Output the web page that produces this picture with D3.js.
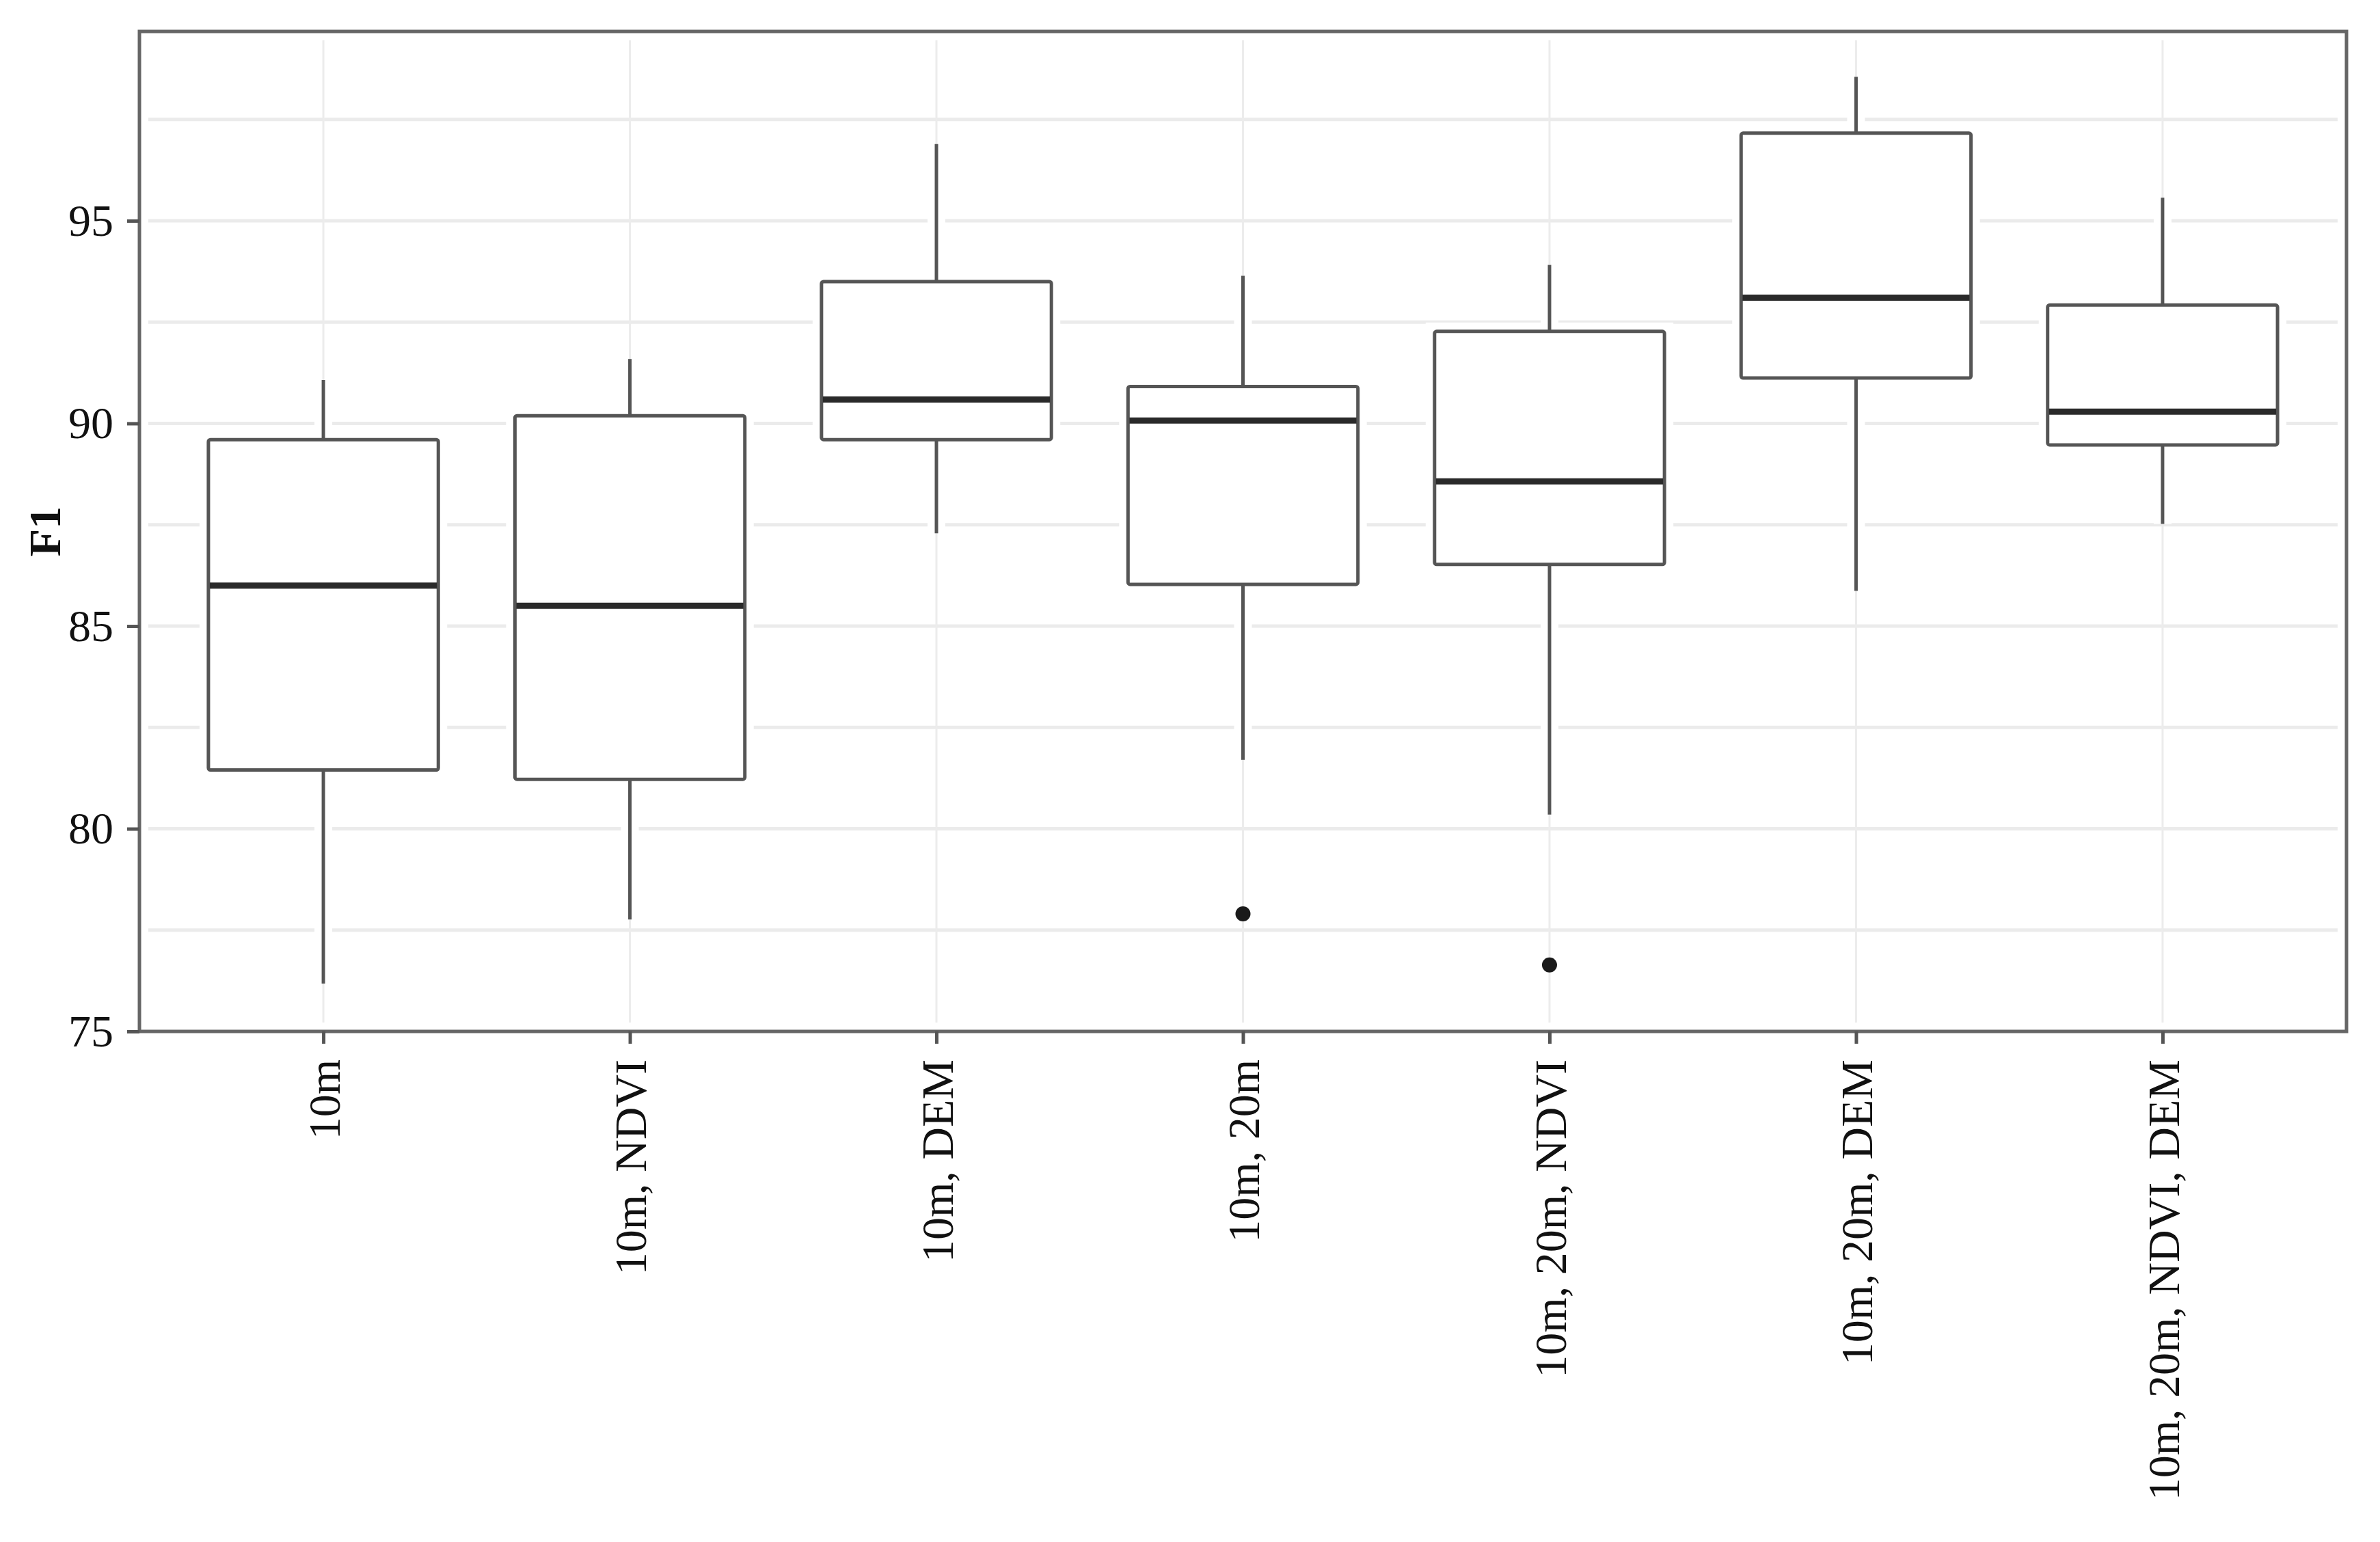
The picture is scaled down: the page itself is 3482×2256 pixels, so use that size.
<!DOCTYPE html>
<html lang="en">
  <head>
    <meta charset="UTF-8" />
    <meta name="viewport" content="width=device-width, initial-scale=1.0" />
    <title>F1 boxplot</title>
    <script src="https://cdn.jsdelivr.net/npm/d3@7"></script>
    <style>
      html,
      body {
        margin: 0;
        padding: 0;
        background: #fff;
      }

      svg {
        display: block;
      }

      .axis text {
        font-family: 'Liberation Serif', 'Times New Roman', serif;
        font-size: 66px;
        fill: #111;
      }
    </style>
  </head>
  <body>
    <svg></svg>
    <script>
      // values
      const categories = [
        '10m',
        '10m, NDVI',
        '10m, DEM',
        '10m, 20m',
        '10m, 20m, NDVI',
        '10m, 20m, DEM',
        '10m, 20m, NDVI, DEM'
      ];
      const whiskerLow = [76.18, 77.76, 87.29, 81.7, 80.35, 85.87, 87.52];
      const q1 = [81.45, 81.22, 89.6, 86.03, 86.52, 91.12, 89.47];
      const median = [86.0, 85.5, 90.59, 90.07, 88.57, 93.1, 90.29];
      const q3 = [89.6, 90.19, 93.5, 90.91, 92.27, 97.16, 92.92];
      const whiskerHigh = [91.07, 91.59, 96.89, 93.64, 93.91, 98.55, 95.57];
      const outliers = [[], [], [], [77.9], [76.64], [], []];

      const yTicks = [75, 80, 85, 90, 95];
      const yMinorTicks = [77.5, 82.5, 87.5, 92.5, 97.5];
      const yTitle = 'F1';

      const width = 3482;
      const height = 2256;
      const margin = { top: 46, right: 49, bottom: 747, left: 204 };
      const innerW = width - margin.left - margin.right;
      const innerH = height - margin.top - margin.bottom;

      const boxes = categories.map((name, i) => ({
        name,
        lo: whiskerLow[i],
        q1: q1[i],
        med: median[i],
        q3: q3[i],
        hi: whiskerHigh[i],
        out: outliers[i]
      }));

      const svg = d3
        .select('svg')
        .attr('width', width)
        .attr('height', height);

      const XScale = d3
        .scalePoint()
        .domain(categories)
        .range([0, innerW])
        .padding(0.6);

      const YScale = d3
        .scaleLinear()
        .domain([75, 99.67])
        .range([innerH, 0]);

      const boxW = XScale.step() * 0.75;

      const g = svg
        .append('g')
        .attr('transform', `translate(${margin.left},${margin.top})`);

      // grid
      g.append('g')
        .selectAll('line')
        .data(yMinorTicks.concat(yTicks))
        .enter()
        .append('line')
        .attr('x1', 0)
        .attr('x2', innerW)
        .attr('y1', d => YScale(d))
        .attr('y2', d => YScale(d))
        .attr('stroke', '#ebebeb')
        .attr('stroke-width', 5);

      g.append('g')
        .selectAll('line')
        .data(categories)
        .enter()
        .append('line')
        .attr('x1', d => XScale(d))
        .attr('x2', d => XScale(d))
        .attr('y1', 0)
        .attr('y2', innerH)
        .attr('stroke', '#ececec')
        .attr('stroke-width', 3);

      // white halo round the dark lines, as in the reference
      const halo = g.append('g').attr('stroke', '#fff').attr('stroke-width', 26);
      halo
        .selectAll('line')
        .data(boxes)
        .enter()
        .append('line')
        .attr('x1', d => XScale(d.name))
        .attr('x2', d => XScale(d.name))
        .attr('y1', d => YScale(d.lo))
        .attr('y2', d => YScale(d.hi));
      halo
        .selectAll('rect')
        .data(boxes)
        .enter()
        .append('rect')
        .attr('x', d => XScale(d.name) - boxW / 2)
        .attr('y', d => YScale(d.q3))
        .attr('width', boxW)
        .attr('height', d => YScale(d.q1) - YScale(d.q3))
        .attr('fill', '#fff');
      halo
        .append('rect')
        .attr('x', 0)
        .attr('y', 0)
        .attr('width', innerW)
        .attr('height', innerH)
        .attr('fill', 'none');

      const box = g
        .selectAll('g.box')
        .data(boxes)
        .enter()
        .append('g')
        .attr('class', 'box');

      box
        .append('line')
        .attr('x1', d => XScale(d.name))
        .attr('x2', d => XScale(d.name))
        .attr('y1', d => YScale(d.hi))
        .attr('y2', d => YScale(d.q3))
        .attr('stroke', '#555')
        .attr('stroke-width', 5);

      box
        .append('line')
        .attr('x1', d => XScale(d.name))
        .attr('x2', d => XScale(d.name))
        .attr('y1', d => YScale(d.q1))
        .attr('y2', d => YScale(d.lo))
        .attr('stroke', '#555')
        .attr('stroke-width', 5);

      box
        .append('rect')
        .attr('x', d => XScale(d.name) - boxW / 2)
        .attr('y', d => YScale(d.q3))
        .attr('width', boxW)
        .attr('height', d => YScale(d.q1) - YScale(d.q3))
        .attr('rx', 3)
        .attr('fill', '#fff')
        .attr('stroke', '#555')
        .attr('stroke-width', 5);

      box
        .append('line')
        .attr('x1', d => XScale(d.name) - boxW / 2 + 2)
        .attr('x2', d => XScale(d.name) + boxW / 2 - 2)
        .attr('y1', d => YScale(d.med))
        .attr('y2', d => YScale(d.med))
        .attr('stroke', '#2a2a2a')
        .attr('stroke-width', 9);

      box
        .selectAll('circle')
        .data(d => d.out.map(v => ({ name: d.name, v })))
        .enter()
        .append('circle')
        .attr('cx', d => XScale(d.name))
        .attr('cy', d => YScale(d.v))
        .attr('r', 11)
        .attr('fill', '#1a1a1a');

      // panel border
      g.append('rect')
        .attr('x', 0)
        .attr('y', 0)
        .attr('width', innerW)
        .attr('height', innerH)
        .attr('fill', 'none')
        .attr('stroke', '#666')
        .attr('stroke-width', 5);

      // axes
      const YAxis = d3
        .axisLeft(YScale)
        .tickValues(yTicks)
        .tickSize(18)
        .tickPadding(20);

      const yAxisG = g
        .append('g')
        .attr('class', 'axis')
        .call(YAxis);
      yAxisG.select('.domain').remove();
      yAxisG.selectAll('line').attr('stroke', '#555').attr('stroke-width', 5);

      const XAxis = d3.axisBottom(XScale).tickSize(18);

      const xAxisG = g
        .append('g')
        .attr('class', 'axis')
        .attr('transform', `translate(0,${innerH})`)
        .call(XAxis);
      xAxisG.select('.domain').remove();
      xAxisG.selectAll('line').attr('stroke', '#555').attr('stroke-width', 5);
      xAxisG
        .selectAll('text')
        .attr('transform', 'rotate(-90)')
        .attr('text-anchor', 'end')
        .attr('x', -41)
        .attr('y', 0)
        .attr('dy', '0.35em');

      svg
        .append('text')
        .attr('transform', `translate(65,${margin.top + innerH / 2}) rotate(-90)`)
        .attr('text-anchor', 'middle')
        .attr('dominant-baseline', 'central')
        .style('font-family', "'Liberation Serif', 'Times New Roman', serif")
        .style('font-size', '66px')
        .style('font-weight', 'bold')
        .style('fill', '#111')
        .text(yTitle);
    </script>
  </body>
</html>
